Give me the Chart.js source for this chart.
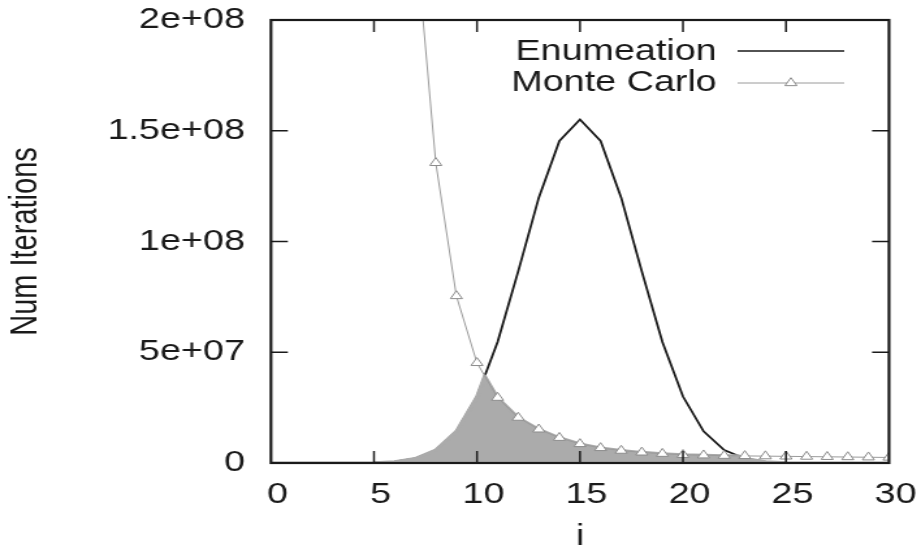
<!DOCTYPE html>
<html>
<head>
<meta charset="utf-8">
<script src="https://cdn.jsdelivr.net/npm/chart.js@4.4.1/dist/chart.umd.min.js"></script>
<style>
  html, body { margin: 0; padding: 0; background: #fff; }
  #plot { display: block; }
</style>
</head>
<body>
<!-- drawn narrow and stretched sideways, like the scanned original -->
<canvas id="plot" width="708" height="554" style="width:921px;height:554px"></canvas>
<script>
// subset size i
const iValues = [0, 1, 2, 3, 4, 5, 6, 7, 8, 9, 10, 11, 12, 13, 14, 15,
                 16, 17, 18, 19, 20, 21, 22, 23, 24, 25, 26, 27, 28, 29, 30];

// number of iterations, exhaustive enumeration
const enumeration = [0, 0, 0, 0, 30000, 140000, 590000, 2040000, 5850000,
                     14300000, 30000000, 54600000, 86500000, 119800000,
                     145400000, 155100000, 145400000, 119800000, 86500000,
                     54600000, 30000000, 14300000, 5850000, 2040000, 590000,
                     140000, 30000, 0, 0, 0, 0];

// number of iterations, monte carlo (nothing below i = 7)
const monteCarlo = [null, null, null, null, null, null, null,
                    240000000, 135500000, 75400000, 45200000, 29500000,
                    20500000, 15200000, 11400000, 8600000, 6800000, 5600000,
                    4800000, 4200000, 3700000, 3500000, 3300000, 3200000,
                    3100000, 3000000, 2900000, 2800000, 2700000, 2600000,
                    2500000];

const seriesNames = ["Enumeation", "Monte Carlo"];
const yTickLabels = ["0", "5e+07", "1e+08", "1.5e+08", "2e+08"];

const FONT = { family: "'Liberation Sans', Arial, Helvetica, sans-serif", size: 29 };
const INK = "#1a1a1a";
const SHADE = "#ababab";
const MC_GREY = "#9a9a9a";

function toPoints(values) {
    const pts = [];
    values.forEach((v, k) => {
        if (v !== null) pts.push({ x: iValues[k], y: v });
    });
    return pts;
}

// area under the lower of the two curves (adds the crossing points)
function lowerEnvelope() {
    const pts = [];
    for (let k = 0; k < iValues.length; k++) {
        const e = enumeration[k];
        const m = monteCarlo[k];
        pts.push({ x: iValues[k], y: m === null ? e : Math.min(e, m) });
        if (k + 1 < iValues.length && m !== null && monteCarlo[k + 1] !== null) {
            const d0 = e - m;
            const d1 = enumeration[k + 1] - monteCarlo[k + 1];
            if (d0 * d1 < 0) {
                const t = d0 / (d0 - d1);
                pts.push({
                    x: iValues[k] + t * (iValues[k + 1] - iValues[k]),
                    y: e + t * (enumeration[k + 1] - e),
                });
            }
        }
    }
    return pts;
}

function triangle(ctx, x, y, r) {
    let a = 0;
    ctx.beginPath();
    ctx.moveTo(x + Math.sin(a) * r, y - Math.cos(a) * r);
    a += (2 * Math.PI) / 3;
    ctx.lineTo(x + Math.sin(a) * r, y - Math.cos(a) * r);
    a += (2 * Math.PI) / 3;
    ctx.lineTo(x + Math.sin(a) * r, y - Math.cos(a) * r);
    ctx.closePath();
}

// gnuplot style frame: box, inward ticks on all sides, key in the corner
const framePlugin = {
    id: "frame",
    afterDatasetsDraw(chart) {
        const ctx = chart.ctx;
        const area = chart.chartArea;
        const xs = chart.scales.x;
        const ys = chart.scales.y;
        ctx.save();
        ctx.strokeStyle = INK;

        ctx.lineWidth = 1.5;
        ctx.beginPath();
        xs.ticks.forEach((t) => {
            if (t.value <= xs.min || t.value >= xs.max) return;
            const px = xs.getPixelForValue(t.value);
            ctx.moveTo(px, area.bottom);
            ctx.lineTo(px, area.bottom - 12);
            ctx.moveTo(px, area.top);
            ctx.lineTo(px, area.top + 12);
        });
        ys.ticks.forEach((t) => {
            if (t.value <= ys.min || t.value >= ys.max) return;
            const py = ys.getPixelForValue(t.value);
            ctx.moveTo(area.left, py);
            ctx.lineTo(area.left + 13, py);
            ctx.moveTo(area.right, py);
            ctx.lineTo(area.right - 13, py);
        });
        ctx.stroke();

        ctx.lineWidth = 2.2;
        ctx.strokeRect(area.left, area.top, area.right - area.left, area.bottom - area.top);

        // key
        ctx.font = FONT.size + "px " + FONT.family;
        ctx.fillStyle = INK;
        ctx.textAlign = "right";
        ctx.textBaseline = "middle";
        const textRight = 551, x0 = 567, x1 = 649;
        const rows = [52, 83];
        ctx.fillText(seriesNames[0], textRight, rows[0]);
        ctx.fillText(seriesNames[1], textRight, rows[1]);

        ctx.lineWidth = 1.6;
        ctx.strokeStyle = INK;
        ctx.beginPath();
        ctx.moveTo(x0, rows[0] - 1);
        ctx.lineTo(x1, rows[0] - 1);
        ctx.stroke();

        ctx.lineWidth = 1;
        ctx.strokeStyle = MC_GREY;
        ctx.beginPath();
        ctx.moveTo(x0, rows[1]);
        ctx.lineTo(x1, rows[1]);
        ctx.stroke();
        triangle(ctx, (x0 + x1) / 2, rows[1], 5.3);
        ctx.fillStyle = "#fff";
        ctx.fill();
        ctx.strokeStyle = "#8c8c8c";
        ctx.stroke();
        ctx.restore();
    },
};

const ctx = document.getElementById("plot").getContext("2d");
new Chart(ctx, {
    type: "line",
    data: {
        datasets: [
            {
                label: seriesNames[1],
                data: toPoints(monteCarlo),
                borderColor: MC_GREY,
                borderWidth: 1,
                tension: 0,
                fill: false,
                pointStyle: "triangle",
                pointRadius: 5.3,
                pointBorderWidth: 1,
                pointBorderColor: "#8c8c8c",
                pointBackgroundColor: "#ffffff",
            },
            {
                label: "shaded",
                data: lowerEnvelope(),
                borderColor: SHADE,
                borderWidth: 3,
                borderJoinStyle: "round",
                backgroundColor: SHADE,
                fill: "origin",
                tension: 0,
                pointRadius: 0,
            },
            {
                label: seriesNames[0],
                data: toPoints(enumeration),
                borderColor: INK,
                borderWidth: 1.8,
                tension: 0,
                fill: false,
                pointRadius: 0,
            },
        ],
    },
    options: {
        responsive: false,
        animation: false,
        devicePixelRatio: 1,
        events: [],
        layout: { padding: { top: 20, right: 24.6, bottom: 0, left: 0 } },
        plugins: {
            legend: { display: false },
            tooltip: { enabled: false },
        },
        scales: {
            x: {
                type: "linear",
                min: 0,
                max: 30,
                afterFit: (s) => {
                    s.height = 91;
                    s.paddingLeft = 0;
                    s.paddingRight = 0;
                },
                grid: { display: false, drawTicks: false },
                border: { display: false },
                ticks: { stepSize: 5, padding: 15, labelOffset: 5, maxRotation: 0, autoSkip: false, font: FONT, color: INK },
                title: { display: true, text: "i", font: FONT, color: INK, padding: { top: 0, bottom: 0 } },
            },
            y: {
                min: 0,
                max: 200000000,
                afterFit: (s) => {
                    s.width = 208.3;
                    s.paddingTop = 0;
                    s.paddingBottom = 0;
                },
                grid: { display: false, drawTicks: false },
                border: { display: false },
                ticks: {
                    stepSize: 50000000,
                    padding: 20,
                    font: FONT,
                    color: INK,
                    callback: (v, idx) => yTickLabels[idx],
                },
                title: { display: true, text: "Num Iterations", font: FONT, color: INK, padding: { top: 3, bottom: 0 } },
            },
        },
    },
    plugins: [framePlugin],
});
</script>
</body>
</html>
